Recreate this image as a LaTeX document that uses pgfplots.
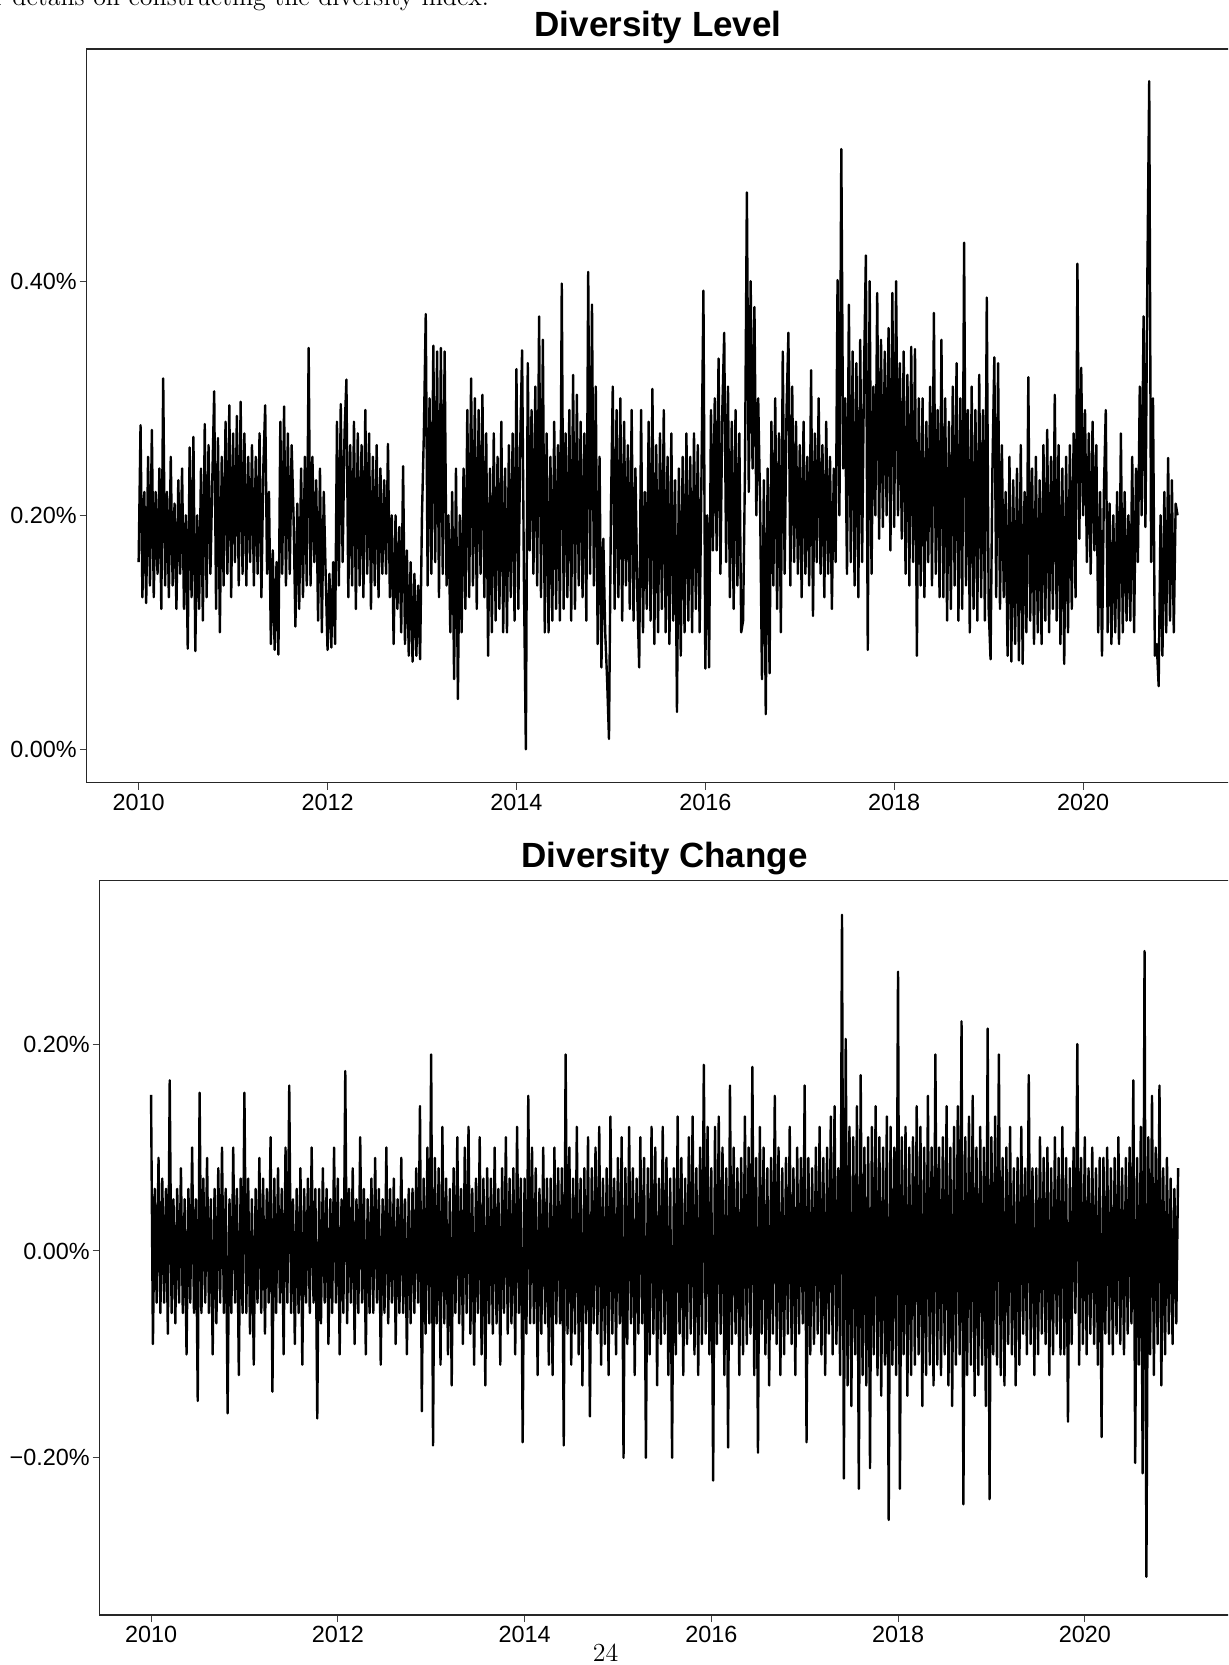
\documentclass[border=0pt]{standalone}
\usepackage{fontspec}
\usepackage{pgfplots}
\usepackage{pgfplotstable}
\pgfplotsset{compat=1.18}
\newfontfamily\arial{Liberation Sans}

% Diversity level (percent), roughly every 0.02 years from 2010.00 to 2021.00
\pgfplotstableread[row sep=\\]{v\\
0.16\\0.277\\0.13\\0.22\\0.125\\ 0.25\\0.14\\0.273\\0.13\\0.22\\ 0.15\\0.24\\0.12\\0.317\\0.14\\ 0.22\\0.13\\0.25\\0.14\\0.21\\ 0.12\\0.23\\0.15\\0.24\\0.12\\
0.2\\0.086\\0.258\\0.13\\0.267\\ 0.084\\0.2\\0.12\\0.24\\0.11\\ 0.278\\0.13\\0.26\\0.15\\0.23\\ 0.306\\0.12\\0.266\\0.1\\0.25\\ 0.14\\0.28\\0.15\\0.294\\0.13\\
0.27\\0.16\\0.285\\0.14\\0.297\\ 0.15\\0.27\\0.14\\0.25\\0.16\\ 0.26\\0.14\\0.25\\0.15\\0.27\\ 0.13\\0.24\\0.294\\0.15\\0.22\\ 0.09\\0.17\\0.085\\0.16\\0.081\\
0.28\\0.15\\0.293\\0.14\\0.27\\ 0.15\\0.26\\0.2\\0.105\\0.21\\ 0.12\\0.24\\0.13\\0.25\\0.14\\ 0.343\\0.14\\0.25\\0.16\\0.23\\ 0.11\\0.24\\0.1\\0.22\\0.15\\
0.085\\0.15\\0.087\\0.16\\0.09\\ 0.28\\0.14\\0.295\\0.16\\0.27\\ 0.316\\0.13\\0.26\\0.14\\0.28\\ 0.12\\0.27\\0.14\\0.26\\0.13\\ 0.29\\0.15\\0.27\\0.12\\0.25\\
0.14\\0.26\\0.13\\0.24\\0.15\\ 0.23\\0.15\\0.261\\0.13\\0.2\\ 0.09\\0.2\\0.12\\0.19\\0.1\\ 0.242\\0.09\\0.17\\0.08\\0.16\\ 0.075\\0.15\\0.08\\0.14\\0.077\\
0.2\\0.27\\0.372\\0.14\\0.3\\ 0.15\\0.345\\0.16\\0.34\\0.13\\ 0.343\\0.15\\0.34\\0.14\\0.2\\ 0.1\\0.22\\0.06\\0.24\\0.043\\ 0.2\\0.1\\0.24\\0.12\\0.29\\
0.13\\0.317\\0.14\\0.3\\0.12\\ 0.29\\0.15\\0.303\\0.13\\0.27\\ 0.08\\0.24\\0.1\\0.27\\0.11\\ 0.25\\0.12\\0.28\\0.1\\0.24\\ 0.1\\0.26\\0.13\\0.27\\0.11\\
0.325\\0.12\\0.26\\0.341\\0.14\\ 0.0\\0.33\\0.17\\0.29\\0.15\\ 0.31\\0.14\\0.37\\0.13\\0.35\\ 0.1\\0.27\\0.1\\0.25\\0.11\\ 0.28\\0.12\\0.26\\0.11\\0.398\\
0.12\\0.27\\0.13\\0.29\\0.11\\ 0.32\\0.12\\0.303\\0.14\\0.28\\ 0.13\\0.27\\0.11\\0.408\\0.15\\ 0.38\\0.14\\0.31\\0.09\\0.25\\ 0.07\\0.18\\0.1\\0.06\\0.009\\
0.2\\0.31\\0.12\\0.29\\0.13\\ 0.3\\0.11\\0.28\\0.14\\0.26\\ 0.12\\0.29\\0.11\\0.24\\0.13\\ 0.07\\0.29\\0.1\\0.22\\0.12\\ 0.28\\0.11\\0.308\\0.09\\0.26\\
0.1\\0.27\\0.12\\0.29\\0.1\\ 0.25\\0.09\\0.27\\0.11\\0.23\\ 0.032\\0.24\\0.08\\0.25\\0.1\\ 0.27\\0.11\\0.25\\0.1\\0.27\\ 0.12\\0.26\\0.1\\0.24\\0.392\\
0.069\\0.2\\0.07\\0.29\\0.17\\ 0.3\\0.17\\0.334\\0.15\\0.29\\ 0.356\\0.16\\0.31\\0.13\\0.28\\ 0.12\\0.29\\0.14\\0.27\\0.1\\ 0.11\\0.24\\0.476\\0.22\\0.4\\
0.24\\0.378\\0.2\\0.3\\0.21\\ 0.06\\0.23\\0.03\\0.24\\0.065\\ 0.28\\0.14\\0.3\\0.12\\0.27\\ 0.1\\0.34\\0.15\\0.29\\0.356\\ 0.14\\0.31\\0.16\\0.28\\0.15\\
0.26\\0.13\\0.28\\0.15\\0.25\\ 0.14\\0.324\\0.114\\0.27\\0.16\\ 0.3\\0.15\\0.26\\0.13\\0.28\\ 0.15\\0.25\\0.12\\0.24\\0.16\\ 0.401\\0.2\\0.513\\0.24\\0.3\\
0.15\\0.38\\0.16\\0.34\\0.14\\ 0.33\\0.13\\0.35\\0.16\\0.32\\ 0.422\\0.085\\0.4\\0.15\\0.31\\ 0.2\\0.39\\0.18\\0.35\\0.19\\ 0.34\\0.2\\0.36\\0.17\\0.39\\
0.19\\0.4\\0.2\\0.33\\0.18\\ 0.34\\0.15\\0.32\\0.14\\0.344\\ 0.16\\0.342\\0.08\\0.3\\0.14\\ 0.3\\0.13\\0.28\\0.16\\0.31\\ 0.14\\0.373\\0.15\\0.29\\0.13\\
0.35\\0.13\\0.3\\0.11\\0.28\\ 0.12\\0.31\\0.14\\0.33\\0.11\\ 0.3\\0.12\\0.433\\0.14\\0.29\\ 0.1\\0.31\\0.12\\0.29\\0.11\\ 0.32\\0.13\\0.29\\0.11\\0.386\\
0.12\\0.077\\0.24\\0.335\\0.13\\ 0.33\\0.12\\0.26\\0.13\\0.22\\ 0.08\\0.25\\0.075\\0.23\\0.09\\ 0.24\\0.076\\0.26\\0.073\\0.22\\ 0.1\\0.318\\0.11\\0.24\\0.09\\
0.25\\0.1\\0.23\\0.09\\0.26\\ 0.11\\0.273\\0.1\\0.25\\0.12\\ 0.303\\0.11\\0.26\\0.09\\0.24\\ 0.073\\0.25\\0.1\\0.26\\0.12\\ 0.27\\0.13\\0.415\\0.18\\0.326\\
0.2\\0.29\\0.16\\0.27\\0.15\\ 0.28\\0.17\\0.26\\0.1\\0.22\\ 0.08\\0.22\\0.29\\0.1\\0.21\\ 0.09\\0.2\\0.1\\0.22\\0.09\\ 0.27\\0.1\\0.22\\0.11\\0.2\\
0.11\\0.25\\0.1\\0.24\\0.16\\ 0.31\\0.2\\0.37\\0.19\\0.402\\ 0.571\\0.16\\0.3\\0.08\\0.09\\ 0.054\\0.2\\0.08\\0.22\\0.1\\ 0.249\\0.11\\0.23\\0.1\\0.21\\
0.2\\
}\levelA

% Diversity change (percent), same dates
\pgfplotstableread[row sep=\\]{v\\
0.151\\-0.09\\0.06\\-0.05\\0.09\\ -0.06\\0.07\\-0.05\\0.06\\-0.08\\ 0.165\\-0.06\\0.05\\-0.07\\0.06\\ -0.05\\0.08\\-0.06\\0.05\\-0.1\\ 0.06\\-0.05\\0.1\\-0.06\\0.05\\
-0.145\\0.153\\-0.06\\0.07\\-0.05\\ 0.09\\-0.06\\0.05\\-0.1\\0.06\\ -0.07\\0.08\\-0.05\\0.1\\-0.06\\ 0.06\\-0.157\\0.05\\-0.06\\0.1\\ -0.05\\0.06\\-0.12\\0.07\\-0.06\\
0.153\\-0.06\\0.07\\-0.08\\0.05\\ -0.11\\0.06\\-0.05\\0.09\\-0.06\\ 0.07\\-0.08\\0.06\\-0.05\\0.11\\ -0.136\\0.07\\-0.06\\0.08\\-0.05\\ 0.06\\-0.1\\0.1\\-0.05\\
0.16\\-0.06\\0.05\\-0.09\\0.06\\ -0.06\\0.08\\-0.11\\0.06\\-0.05\\ 0.07\\-0.06\\0.1\\-0.05\\0.06\\ -0.162\\0.06\\-0.07\\0.08\\-0.05\\ 0.06\\-0.09\\0.05\\-0.06\\0.1\\
-0.05\\0.07\\-0.1\\0.05\\-0.06\\ 0.174\\-0.07\\0.06\\-0.05\\0.08\\ -0.09\\0.05\\-0.06\\0.11\\-0.05\\ 0.06\\-0.1\\0.05\\-0.06\\0.07\\ -0.06\\0.09\\-0.05\\0.06\\-0.11\\
0.05\\-0.06\\0.1\\-0.07\\0.06\\ -0.05\\0.07\\-0.09\\0.05\\-0.06\\ 0.09\\-0.06\\0.05\\-0.1\\0.06\\ -0.07\\0.06\\-0.06\\0.08\\-0.05\\ 0.14\\-0.155\\0.07\\-0.08\\0.1\\
-0.07\\0.19\\-0.188\\0.09\\-0.07\\ 0.08\\-0.11\\0.12\\-0.07\\0.07\\ -0.1\\0.06\\-0.13\\0.08\\-0.06\\ 0.11\\-0.07\\0.06\\-0.09\\0.1\\ -0.06\\0.12\\-0.08\\0.06\\-0.11\\
0.07\\-0.06\\0.11\\-0.1\\0.07\\ -0.13\\0.08\\-0.07\\0.07\\-0.08\\ 0.1\\-0.07\\0.06\\-0.11\\0.08\\ -0.06\\0.11\\-0.08\\0.07\\-0.07\\ 0.08\\-0.1\\0.12\\-0.06\\0.07\\
-0.185\\0.07\\-0.08\\0.15\\-0.07\\ 0.1\\-0.07\\0.08\\-0.12\\0.06\\ -0.08\\0.1\\-0.07\\0.07\\-0.11\\ 0.07\\-0.12\\0.1\\-0.07\\0.08\\ -0.07\\0.08\\-0.188\\0.19\\-0.08\\
0.1\\-0.11\\0.07\\-0.08\\0.12\\ -0.1\\0.07\\-0.13\\0.08\\-0.07\\ 0.11\\-0.16\\0.08\\-0.07\\0.1\\ -0.08\\0.12\\-0.11\\0.07\\-0.09\\ 0.08\\-0.12\\0.13\\-0.08\\0.07\\
-0.1\\0.09\\-0.07\\0.11\\-0.2\\ 0.08\\-0.09\\0.12\\-0.07\\0.08\\ -0.12\\0.07\\-0.08\\0.11\\-0.07\\ 0.09\\-0.2\\0.08\\-0.1\\0.12\\ -0.08\\0.1\\-0.13\\0.07\\-0.09\\
0.12\\-0.08\\0.09\\-0.12\\0.07\\ -0.2\\0.08\\-0.1\\0.13\\-0.08\\ 0.09\\-0.12\\0.07\\-0.09\\0.11\\ -0.08\\0.13\\-0.1\\0.08\\-0.12\\ 0.1\\-0.09\\0.18\\-0.08\\0.12\\
-0.1\\0.08\\-0.222\\0.12\\-0.09\\ 0.13\\-0.08\\0.1\\-0.12\\0.08\\ -0.19\\0.16\\-0.09\\0.1\\-0.08\\ 0.08\\-0.12\\0.09\\-0.1\\0.13\\ -0.09\\0.1\\-0.08\\0.178\\-0.12\\
0.09\\-0.195\\0.12\\-0.08\\0.1\\ -0.1\\0.08\\-0.13\\0.09\\-0.08\\ 0.15\\-0.09\\0.1\\-0.12\\0.08\\ -0.1\\0.09\\-0.08\\0.12\\-0.09\\ 0.08\\-0.12\\0.1\\-0.08\\0.09\\-0.07\\
0.16\\-0.185\\0.09\\-0.1\\0.08\\ -0.09\\0.1\\-0.08\\0.12\\-0.1\\ 0.09\\-0.12\\0.1\\-0.08\\0.13\\ -0.1\\0.14\\-0.09\\0.08\\-0.12\\ 0.325\\-0.22\\0.205\\-0.13\\
0.12\\-0.15\\0.11\\-0.1\\0.14\\ -0.23\\0.17\\-0.12\\0.1\\-0.13\\ 0.11\\-0.21\\0.12\\-0.1\\0.14\\ -0.12\\0.11\\-0.14\\0.1\\-0.11\\ 0.13\\-0.26\\0.12\\-0.11\\0.1\\
-0.12\\0.27\\-0.23\\0.11\\-0.1\\ 0.12\\-0.14\\0.1\\-0.12\\0.11\\ -0.11\\0.14\\-0.1\\0.12\\-0.15\\ 0.1\\-0.12\\0.15\\-0.11\\0.1\\ -0.13\\0.19\\-0.11\\0.1\\-0.12\\
0.11\\-0.1\\0.14\\-0.13\\0.1\\ -0.15\\0.12\\-0.11\\0.14\\-0.1\\ 0.222\\-0.245\\0.11\\-0.12\\0.13\\ -0.11\\0.15\\-0.14\\0.1\\-0.12\\ 0.12\\-0.11\\0.1\\-0.15\\0.215\\
-0.24\\0.11\\-0.1\\0.13\\-0.11\\ 0.19\\-0.12\\0.09\\-0.13\\0.1\\ -0.09\\0.12\\-0.1\\0.08\\-0.13\\ 0.09\\-0.11\\0.12\\-0.08\\0.08\\ -0.1\\0.17\\-0.09\\0.08\\-0.12\\
0.08\\-0.1\\0.11\\-0.08\\0.09\\ -0.09\\0.1\\-0.12\\0.08\\-0.1\\ 0.11\\-0.08\\0.09\\-0.1\\0.12\\ -0.1\\0.09\\-0.165\\0.08\\-0.09\\ 0.1\\-0.06\\0.2\\-0.11\\0.09\\
-0.09\\0.11\\-0.1\\0.08\\-0.08\\ 0.1\\-0.09\\0.08\\-0.11\\0.09\\ -0.18\\0.09\\-0.08\\0.1\\-0.09\\ 0.08\\-0.1\\0.09\\-0.08\\0.11\\ -0.09\\0.08\\-0.1\\0.09\\-0.08\\
0.1\\-0.07\\0.165\\-0.205\\0.09\\-0.11\\ 0.12\\-0.215\\0.29\\-0.315\\0.11\\ -0.1\\0.15\\-0.12\\0.1\\-0.09\\ 0.16\\-0.13\\0.08\\-0.1\\0.09\\ -0.08\\0.07\\-0.09\\0.06\\-0.07\\
0.08\\
}\changeA

\pgfplotsset{
  myax/.style={
    scale only axis,
    xmin=2009.45, xmax=2021.55,
    xtick={2010,2012,2014,2016,2018,2020},
    xticklabels={2010,2012,2014,2016,2018,2020},
    tick pos=left,
    tick align=outside,
    major tick length=3.5pt,
    tick style={black!75, line width=0.5pt},
    axis line style={black!85, line width=0.75pt},
    ticklabel style={font=\arial\fontsize{11.7}{14}\selectfont, text=black},
    xticklabel style={inner sep=2pt},
    yticklabel style={inner sep=1.3pt},
    title style={font=\arial\bfseries\fontsize{17.5}{21}\selectfont, at={(0.5,1)}, anchor=base, yshift=0.5pt},
  },
  serie/.style={black, line width=1.2pt, line join=round, mark=none},
}

\begin{document}
\begin{tikzpicture}
\useasboundingbox (0pt,0pt) rectangle (614pt,-832.5pt);
\clip (0pt,0pt) rectangle (614pt,-832.5pt);

\node[font=\fontsize{13}{15}\selectfont, anchor=base west, inner sep=0pt] at (-13.4pt,-2.5pt) {for details on constructing the diversity index.};

\begin{axis}[myax,
  at={(43.35pt,-24.5pt)}, anchor=north west,
  width=571.4pt, height=366.85pt,
  ymin=-0.0285, ymax=0.5985,
  ytick={0,0.2,0.4},
  yticklabels={0.00\%,0.20\%,0.40\%},
  title={Diversity Level}]
\addplot[serie] table[x expr=2010+\coordindex*0.02, y=v] {\levelA};
\end{axis}

\begin{axis}[myax,
  at={(49.85pt,-440.35pt)}, anchor=north west,
  width=564.9pt, height=367.15pt,
  ymin=-0.352, ymax=0.358,
  ytick={-0.2,0,0.2},
  yticklabels={−0.20\%,0.00\%,0.20\%},
  title={Diversity Change}]
\addplot[serie] table[x expr=2010+\coordindex*0.02, y=v] {\changeA};
\end{axis}

\node[font=\fontsize{13}{15}\selectfont, anchor=base, inner sep=0pt] at (302.75pt,-830.5pt) {24};
\end{tikzpicture}
\end{document}
